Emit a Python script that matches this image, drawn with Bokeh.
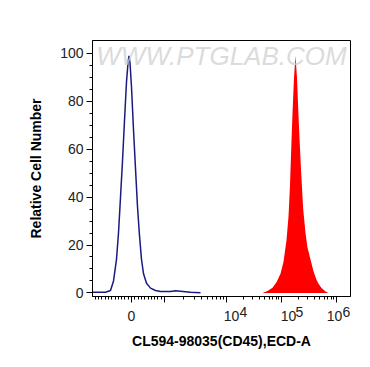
import numpy as np
from bokeh.plotting import figure
from bokeh.models import Range1d, FixedTicker, Label, LinearAxis
from bokeh.embed import file_html
from bokeh.resources import INLINE

# ---- data (fluorescence intensity, relative count) ----
blue_x = [-1182, -788, -636, -545, -455, -394, -333, -273, -212, -152, -106, -76, -45,
          0, 61, 121, 182, 242, 303, 364, 455, 576, 727, 879, 1250, 1505, 1813, 2630, 3810]
blue_y = [0.3, 0.3, 1, 5, 14, 25, 40, 55, 72, 88, 96, 99, 96,
          86, 68, 52, 36, 24, 14, 8, 4, 2, 1, 0.6, 0.6, 0.9, 0.7, 0.3, 0.1]

red_x = [45100, 55700, 68600, 81100, 95900, 108800, 123300, 134100, 142700, 150100,
         158500, 168800, 179700, 191300, 203800, 215100, 228200, 248000, 273200,
         297000, 336800, 381700, 432900, 470700, 533700, 631000, 715300]
red_y = [0, 0.8, 2.2, 4.5, 8, 13, 22, 32, 45, 60,
         75, 90, 99, 90, 74, 62, 50, 35, 25,
         19, 14, 9, 5.5, 3.8, 2, 0.6, 0]

x_major_values = [0, 1e3, 1e4, 1e5, 1e6]
x_tick_labels = ["0", "10", "10", "10"]          # "0" and the bases of 10^4, 10^5, 10^6
x_tick_label_pos = [0, 100, 157, 203]            # display positions of those labels
x_exp_labels = ["4", "5", "6"]                   # raised exponents
x_exp_label_pos = [112, 168, 215]
y_ticks = [0, 20, 40, 60, 80, 100]

x_label = "CL594-98035(CD45),ECD-A"
y_label = "Relative Cell Number"
watermark = "WWW.PTGLAB.COM"


def disp(v):
    """biexponential-like display transform (display units)"""
    v = float(v)
    if v <= 1e3:
        return v * 0.033
    if v <= 1e4:
        return 33 + 62 * np.log10(v / 1e3)
    return 95 + 55 * np.log10(v / 1e4)


bx = [disp(v) for v in blue_x]
rx = [disp(v) for v in red_x]

p = figure(width=362, height=359, output_backend="svg", toolbar_location=None,
           x_range=Range1d(-39, 219), y_range=Range1d(-1.5, 105.4))
p.min_border_left = 92
p.min_border_right = 12
p.min_border_top = 40
p.min_border_bottom = 63
p.background_fill_color = "white"
p.border_fill_color = "white"
p.outline_line_color = "black"
p.outline_line_width = 1
p.xgrid.visible = False
p.ygrid.visible = False

p.varea(x=rx, y1=[0] * len(rx), y2=red_y, fill_color="#ff0000")
p.line(x=bx, y=blue_y, line_color="#1a1a80", line_width=1.5)

FONT = "Liberation Sans"

# x axis 1: tick marks only
major = [round(disp(v)) for v in x_major_values]
minor = [disp(v) for v in range(-1100, 1000, 100) if v != 0]
for dec in (1e3, 1e4, 1e5):
    for k in range(2, 10):
        minor.append(disp(k * dec))
xa = p.xaxis[0]
xa.ticker = FixedTicker(ticks=major, minor_ticks=minor)
xa.major_label_overrides = {m: "" for m in major}
xa.major_label_text_font_size = "1px"
xa.major_label_standoff = 0

# x axis 2: raised exponents
xe = LinearAxis(ticker=FixedTicker(ticks=x_exp_label_pos, minor_ticks=[]),
                major_label_overrides={k: t for k, t in zip(x_exp_label_pos, x_exp_labels)})
xe.axis_line_color = None
xe.major_tick_line_color = None
xe.minor_tick_line_color = None
xe.major_tick_out = 0
xe.minor_tick_out = 0
xe.major_label_standoff = 4
xe.major_label_text_font = FONT
xe.major_label_text_font_size = "14px"
xe.major_label_text_color = "#222222"
p.add_layout(xe, "below")

# x axis 3: "0" and the "10" bases, plus axis title
xb = LinearAxis(ticker=FixedTicker(ticks=x_tick_label_pos, minor_ticks=[]),
                major_label_overrides={k: t for k, t in zip(x_tick_label_pos, x_tick_labels)})
xb.axis_line_color = None
xb.major_tick_line_color = None
xb.minor_tick_line_color = None
xb.major_tick_out = 0
xb.minor_tick_out = 0
xb.major_label_standoff = -9
xb.major_label_text_font = FONT
xb.major_label_text_font_size = "14px"
xb.major_label_text_color = "#222222"
xb.axis_label = x_label
xb.axis_label_standoff = 9
xb.axis_label_text_font = FONT
xb.axis_label_text_font_style = "bold"
xb.axis_label_text_font_size = "14px"
xb.axis_label_text_color = "black"
p.add_layout(xb, "below")

ya = p.yaxis[0]
ya.ticker = FixedTicker(ticks=y_ticks, minor_ticks=list(range(0, 105, 5)))
for ax in (xa, ya):
    ax.axis_line_color = "black"
    ax.major_tick_line_color = "black"
    ax.minor_tick_line_color = "black"
    ax.major_tick_out = 6
    ax.major_tick_in = 0
    ax.minor_tick_out = 3
    ax.minor_tick_in = 0
ya.major_label_text_font = FONT
ya.major_label_text_color = "#222222"
ya.major_label_text_font_size = "14px"
ya.major_label_standoff = 3
ya.axis_label = y_label
ya.axis_label_standoff = 13
ya.axis_label_text_font = FONT
ya.axis_label_text_font_style = "bold"
ya.axis_label_text_font_size = "14px"
ya.axis_label_text_color = "black"

p.add_layout(Label(x=(-39 + 219) / 2, y=98.9, text=watermark, text_align="center",
                   text_baseline="middle", text_font=FONT,
                   text_font_style="italic", text_font_size="26px",
                   text_color="#cfcfcf", text_alpha=0.75))

open("out.html", "w").write(file_html(p, INLINE))
